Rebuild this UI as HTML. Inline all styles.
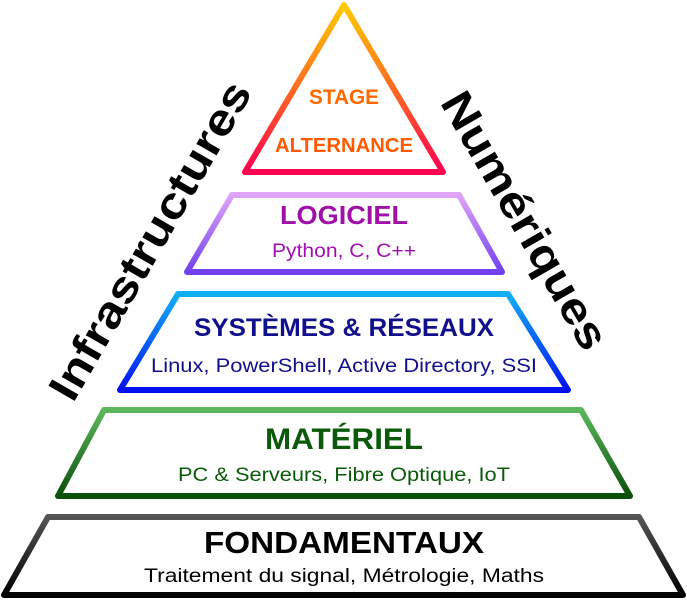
<!DOCTYPE html>
<html><head><meta charset="utf-8"><style>html,body{margin:0;padding:0;background:#fff}svg{display:block}</style></head>
<body>
<svg width="687" height="600" viewBox="0 0 687 600" xmlns="http://www.w3.org/2000/svg" font-family="Liberation Sans, DejaVu Sans, sans-serif">
<defs>
<linearGradient id="g1" x1="0" y1="0" x2="0" y2="1"><stop offset="0" stop-color="#ffcc00"/><stop offset="0.5" stop-color="#ff6a20"/><stop offset="1" stop-color="#ff0050"/></linearGradient>
<linearGradient id="g2" x1="0" y1="0" x2="0" y2="1"><stop offset="0" stop-color="#e0a4f8"/><stop offset="1" stop-color="#7040f0"/></linearGradient>
<linearGradient id="g3" x1="0" y1="0" x2="0" y2="1"><stop offset="0" stop-color="#10b0f8"/><stop offset="1" stop-color="#0010f0"/></linearGradient>
<linearGradient id="g4" x1="0" y1="0" x2="0" y2="1"><stop offset="0" stop-color="#5cb85c"/><stop offset="1" stop-color="#0a500a"/></linearGradient>
<linearGradient id="g5" x1="0" y1="0" x2="0" y2="1"><stop offset="0" stop-color="#555"/><stop offset="1" stop-color="#000"/></linearGradient>
</defs>
<g fill="#fff" stroke-width="6" stroke-linejoin="round">
<polygon points="344,5 245,172 443,172" stroke="url(#g1)"/>
<polygon points="232,195 459,195 502,272 187,272" stroke="url(#g2)"/>
<polygon points="178,294 508,294 568,390 120,390" stroke="url(#g3)"/>
<polygon points="104,410 581,410 630,496 58,496" stroke="url(#g4)"/>
<polygon points="48,517 639,517 683,595 4,595" stroke="url(#g5)"/>
</g>
<g text-anchor="middle" font-weight="bold">
<text x="344" y="104" font-size="21" fill="#ff6a00" textLength="70" lengthAdjust="spacingAndGlyphs">STAGE</text>
<text x="344" y="152" font-size="20" fill="#ff5a00" textLength="138" lengthAdjust="spacingAndGlyphs">ALTERNANCE</text>
<text x="344" y="224" font-size="26" fill="#a010a8" textLength="128" lengthAdjust="spacingAndGlyphs">LOGICIEL</text>
<text x="344" y="336" font-size="25" fill="#10108c" textLength="300" lengthAdjust="spacingAndGlyphs">SYSTÈMES &amp; RÉSEAUX</text>
<text x="344" y="449" font-size="30" fill="#0a5a0a" textLength="158" lengthAdjust="spacingAndGlyphs">MATÉRIEL</text>
<text x="344" y="553" font-size="31" fill="#000" textLength="280" lengthAdjust="spacingAndGlyphs">FONDAMENTAUX</text>
</g>
<g text-anchor="middle" font-size="19">
<text x="344" y="257" fill="#a010b0" textLength="144" lengthAdjust="spacingAndGlyphs">Python, C, C++</text>
<text x="344" y="372" fill="#10108c" textLength="386" lengthAdjust="spacingAndGlyphs">Linux, PowerShell, Active Directory, SSI</text>
<text x="344" y="481" fill="#0a5a0a" textLength="332" lengthAdjust="spacingAndGlyphs">PC &amp; Serveurs, Fibre Optique, IoT</text>
<text x="344" y="582" fill="#000" textLength="400" lengthAdjust="spacingAndGlyphs">Traitement du signal, Métrologie, Maths</text>
</g>
<g font-weight="bold" font-size="44" text-anchor="middle" fill="#000">
<text transform="translate(163,248) rotate(-60)" textLength="360" lengthAdjust="spacingAndGlyphs">Infrastructures</text>
<text transform="translate(512,228) rotate(60)" textLength="290" lengthAdjust="spacingAndGlyphs">Numériques</text>
</g>
</svg>
</body></html>
